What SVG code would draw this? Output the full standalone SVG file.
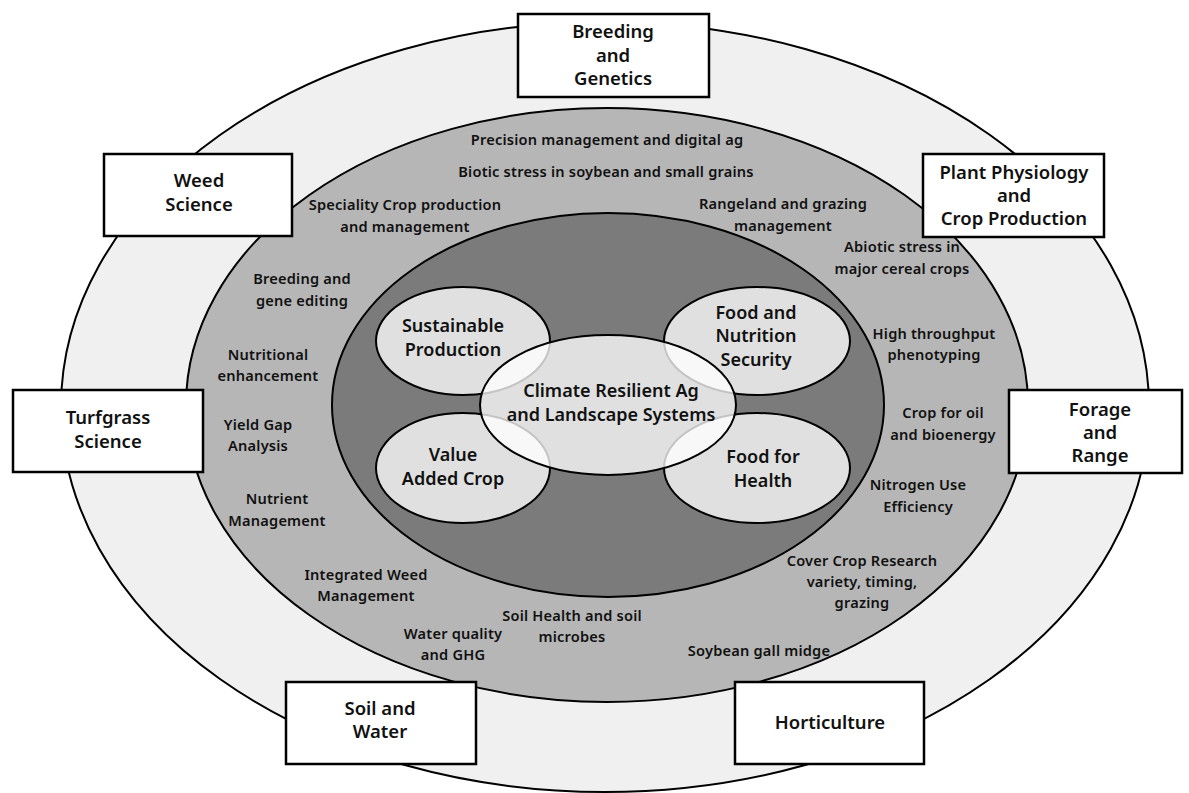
<svg xmlns="http://www.w3.org/2000/svg" width="1189" height="793" viewBox="0 0 1189 793">
<style>
.ring{stroke:#000;stroke-width:2}
.box{fill:#fff;stroke:#000;stroke-width:2.5}
.bt{font-family:"Noto Sans","Liberation Sans",sans-serif;font-weight:600;font-size:18.5px;fill:#111;text-anchor:middle}
.st{font-family:"Noto Sans","Liberation Sans",sans-serif;font-weight:600;font-size:14.6px;letter-spacing:0.2px;fill:#111;text-anchor:middle}
.it{font-family:"Noto Sans","Liberation Sans",sans-serif;font-weight:600;font-size:18px;fill:#111;text-anchor:middle}
.sm{fill:#e0e0e0;stroke:#000;stroke-width:2}
</style>
<rect width="1189" height="793" fill="#fff"/>
<g id="rings">
<ellipse class="ring" cx="605" cy="407" rx="544" ry="385" fill="#f0f0f0"/>
<ellipse class="ring" cx="607" cy="405" rx="421" ry="297" fill="#b6b6b6"/>
<ellipse class="ring" cx="608" cy="405" rx="276" ry="192" fill="#7b7b7b"/>
</g>
<g id="band-labels">
<text class="st" x="607" y="145">Precision management and digital ag</text>
<text class="st" x="606" y="177">Biotic stress in soybean and small grains</text>
<text class="st" x="405" y="210">Speciality Crop production<tspan x="405" dy="22">and management</tspan></text>
<text class="st" x="783" y="209">Rangeland and grazing<tspan x="783" dy="22">management</tspan></text>
<text class="st" x="902" y="252">Abiotic stress in<tspan x="902" dy="22">major cereal crops</tspan></text>
<text class="st" x="302" y="284">Breeding and<tspan x="302" dy="22">gene editing</tspan></text>
<text class="st" x="934" y="339">High throughput<tspan x="934" dy="21">phenotyping</tspan></text>
<text class="st" x="268" y="360">Nutritional<tspan x="268" dy="21">enhancement</tspan></text>
<text class="st" x="258" y="430">Yield Gap<tspan x="258" dy="21">Analysis</tspan></text>
<text class="st" x="943" y="418">Crop for oil<tspan x="943" dy="22">and bioenergy</tspan></text>
<text class="st" x="277" y="504">Nutrient<tspan x="277" dy="22">Management</tspan></text>
<text class="st" x="918" y="490">Nitrogen Use<tspan x="918" dy="22">Efficiency</tspan></text>
<text class="st" x="366" y="580">Integrated Weed<tspan x="366" dy="21">Management</tspan></text>
<text class="st" x="862" y="566">Cover Crop Research<tspan x="862" dy="21">variety, timing,</tspan><tspan x="862" dy="21">grazing</tspan></text>
<text class="st" x="572" y="621">Soil Health and soil<tspan x="572" dy="21">microbes</tspan></text>
<text class="st" x="453" y="639">Water quality<tspan x="453" dy="21">and GHG</tspan></text>
<text class="st" x="759" y="656">Soybean gall midge</text>
</g>
<g id="sustainable-production">
<ellipse class="sm" cx="463" cy="341" rx="87" ry="54"/>
<text class="it" x="453" y="332">Sustainable<tspan x="453" dy="23.5">Production</tspan></text>
</g>
<g id="food-nutrition-security">
<ellipse class="sm" cx="757" cy="341" rx="93" ry="54"/>
<text class="it" x="756" y="318.5">Food and<tspan x="756" dy="23.5">Nutrition</tspan><tspan x="756" dy="23.5">Security</tspan></text>
</g>
<g id="value-added-crop">
<ellipse class="sm" cx="463" cy="468" rx="87" ry="55"/>
<text class="it" x="453" y="461">Value<tspan x="453" dy="23.5">Added Crop</tspan></text>
</g>
<g id="food-for-health">
<ellipse class="sm" cx="757" cy="468" rx="93" ry="55"/>
<text class="it" x="763" y="463">Food for<tspan x="763" dy="23.5">Health</tspan></text>
</g>
<g id="climate-resilient">
<ellipse cx="608" cy="405" rx="128" ry="70" fill="#fff" fill-opacity="0.77" stroke="#000" stroke-width="2"/>
<text class="it" x="611" y="397">Climate Resilient Ag<tspan x="611" dy="23.5">and Landscape Systems</tspan></text>
</g>
<g id="breeding-genetics">
<rect class="box" x="518" y="14" width="191" height="83"/>
<text class="bt" x="613" y="38">Breeding<tspan x="613" dy="23.5">and</tspan><tspan x="613" dy="23.5">Genetics</tspan></text>
</g>
<g id="weed-science">
<rect class="box" x="104" y="154" width="188" height="82"/>
<text class="bt" x="199" y="187">Weed<tspan x="199" dy="24">Science</tspan></text>
</g>
<g id="plant-physiology">
<rect class="box" x="923" y="154" width="181" height="83"/>
<text class="bt" x="1014" y="179">Plant Physiology<tspan x="1014" dy="23">and</tspan><tspan x="1014" dy="23">Crop Production</tspan></text>
</g>
<g id="turfgrass-science">
<rect class="box" x="13" y="390" width="190" height="82"/>
<text class="bt" x="108" y="424">Turfgrass<tspan x="108" dy="24">Science</tspan></text>
</g>
<g id="forage-range">
<rect class="box" x="1009" y="390" width="173" height="83"/>
<text class="bt" x="1100" y="416">Forage<tspan x="1100" dy="23">and</tspan><tspan x="1100" dy="23">Range</tspan></text>
</g>
<g id="soil-water">
<rect class="box" x="286" y="682" width="190" height="82"/>
<text class="bt" x="380" y="715">Soil and<tspan x="380" dy="23">Water</tspan></text>
</g>
<g id="horticulture">
<rect class="box" x="735" y="682" width="189" height="82"/>
<text class="bt" x="830" y="729">Horticulture</text>
</g>
</svg>
